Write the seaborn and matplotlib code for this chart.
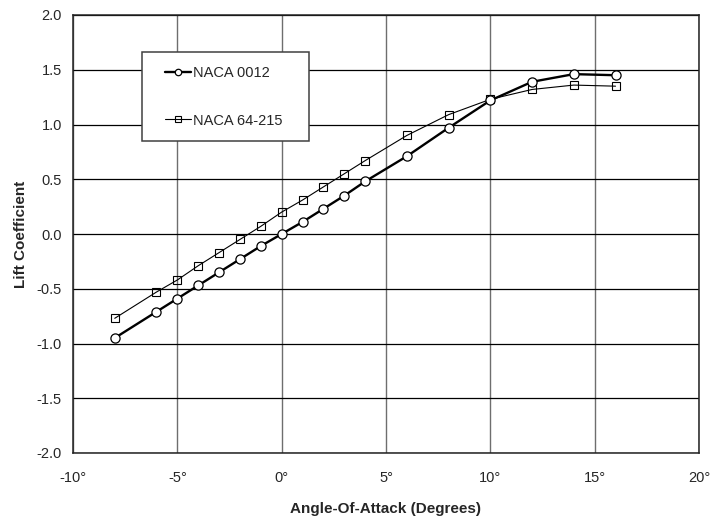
import numpy as np
import pandas as pd
import matplotlib
matplotlib.use("Agg")
import matplotlib.pyplot as plt
from matplotlib.patches import Rectangle
import seaborn as sns

# angle of attack (deg)
alpha = [-8, -6, -5, -4, -3, -2, -1, 0, 1, 2, 3, 4, 6, 8, 10, 12, 14, 16]
# lift coefficients
cl_0012 = [-0.95, -0.71, -0.59, -0.47, -0.35, -0.23, -0.11, 0.0, 0.11, 0.23,
           0.35, 0.48, 0.71, 0.97, 1.22, 1.39, 1.46, 1.45]
cl_64215 = [-0.77, -0.53, -0.42, -0.29, -0.17, -0.05, 0.07, 0.20, 0.31, 0.43,
            0.55, 0.67, 0.90, 1.09, 1.23, 1.32, 1.36, 1.35]
x_ticks = [-10, -5, 0, 5, 10, 15, 20]
y_ticks = [-2.0, -1.5, -1.0, -0.5, 0.0, 0.5, 1.0, 1.5, 2.0]

df0012 = pd.DataFrame({"alpha": alpha, "cl": cl_0012})
df64215 = pd.DataFrame({"alpha": alpha, "cl": cl_64215})

sns.set_style("white")
plt.rcParams["font.family"] = ["Liberation Sans", "DejaVu Sans"]

fig = plt.figure(figsize=(7.12, 5.19), dpi=100)
ax = fig.add_axes([73 / 712, 66 / 519, 626 / 712, 438 / 519])

sns.lineplot(data=df0012, x="alpha", y="cl", ax=ax, color="black", linewidth=1.7,
             marker="o", markersize=6.6, markerfacecolor="white",
             markeredgecolor="black", markeredgewidth=0.9, label="NACA 0012",
             zorder=4)
sns.lineplot(data=df64215, x="alpha", y="cl", ax=ax, color="black", linewidth=0.8,
             marker="s", markersize=6.2, markerfacecolor="none",
             markeredgecolor="black", markeredgewidth=0.8, label="NACA 64-215",
             zorder=3)

ax.set_xlim(-10, 20)
ax.set_ylim(-2, 2)
ax.set_xticks(x_ticks)
ax.set_xticklabels([f"{v}°" for v in x_ticks])
ax.set_yticks(y_ticks)
ax.set_yticklabels([f"{v:.1f}" for v in y_ticks])

ax.xaxis.grid(True, color="#6e6e6e", linewidth=1.0)
ax.yaxis.grid(True, color="black", linewidth=0.9)
ax.set_axisbelow(True)
for s in ax.spines.values():
    s.set_color("#222222")
    s.set_linewidth(1.1)

ax.tick_params(axis="x", labelsize=10.5, length=0, pad=13)
ax.tick_params(axis="y", labelsize=10.5, length=0, pad=8)
ax.set_xlabel("Angle-Of-Attack (Degrees)", fontsize=11, fontweight="bold", labelpad=12)
ax.set_ylabel("Lift Coefficient", fontsize=11, fontweight="bold", labelpad=6)

# legend box drawn separately, entries placed inside it
box = Rectangle((69 / 626, (453 - 141) / 438), 167 / 626, 89 / 438,
                transform=ax.transAxes, facecolor="white", edgecolor="#404040",
                linewidth=1.1, zorder=5)
ax.add_patch(box)
leg = ax.legend(loc="upper left", bbox_to_anchor=(92 / 626, (453 - 66) / 438),
                frameon=False, fontsize=10.5, handlelength=1.75,
                handletextpad=0.15, labelspacing=2.3, borderpad=0,
                borderaxespad=0, markerscale=0.7)
leg.set_zorder(6)

fig.savefig("out.png", dpi=100)
